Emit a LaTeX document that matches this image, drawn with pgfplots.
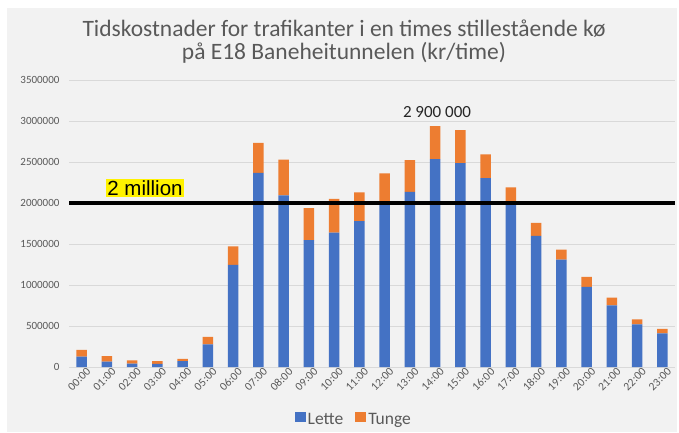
\documentclass[border=0pt]{standalone}
\usepackage{pgfplots}
\pgfplotsset{compat=1.18}
\usepackage{pgfplotstable}
\usepackage{fontspec}
\setmainfont{Carlito}
\newfontfamily\arial{Liberation Sans}
\definecolor{lette}{HTML}{4472C4}
\definecolor{tunge}{HTML}{ED7D31}
\definecolor{bg}{HTML}{F2F2F2}
\definecolor{txt}{HTML}{595959}
\definecolor{grd}{HTML}{D9D9D9}
\pgfplotstableread{
x lette tunge
0 126000 82000
1 65000 69000
2 41000 40000
3 37000 36000
4 73000 25000
5 277000 90000
6 1245000 225000
7 2368000 364000
8 2094000 434000
9 1546000 393000
10 1640000 409000
11 1779000 352000
12 1990000 370000
13 2135000 389000
14 2536000 401000
15 2487000 401000
16 2303000 290000
17 1985000 207000
18 1599000 160000
19 1309000 122000
20 978000 122000
21 753000 94000
22 519000 62000
23 409000 57000
}\data
\pgfplotstableread{
x y
-0.5 2000000
23.5 2000000
}\line
\begin{document}
\begin{tikzpicture}
\useasboundingbox (0,0) rectangle (679pt,432pt);
\fill[white] (0,0) rectangle (679pt,432pt);
\fill[bg] (7pt,0pt) rectangle (677pt,424pt);
\begin{axis}[
  at={(69pt,65pt)}, anchor=south west,
  scale only axis, width=606pt, height=287pt,
  ybar stacked, bar width=10.5pt,
  xmin=-0.5, xmax=23.5, ymin=0, ymax=3500000,
  axis line style={draw=none},
  major tick length=0pt,
  ymajorgrids, grid style={grd, line width=0.6pt},
  ytick={0,500000,...,3500000},
  scaled y ticks=false,
  /pgf/number format/assume math mode=true,
  yticklabel style={/pgf/number format/fixed, /pgf/number format/1000 sep={}, font=\fontsize{11}{12}\selectfont, text=txt, xshift=-6pt},
  xtick=data,
  xticklabels={00:00,01:00,02:00,03:00,04:00,05:00,06:00,07:00,08:00,09:00,10:00,11:00,12:00,13:00,14:00,15:00,16:00,17:00,18:00,19:00,20:00,21:00,22:00,23:00},
  xticklabel style={rotate=45, anchor=north east, font=\fontsize{11.5}{12}\selectfont, text=txt, inner sep=1pt, xshift=4pt, yshift=-2pt},
  legend style={at={(0.47,-0.185)}, anchor=center, draw=none, fill=none, legend columns=2, font=\fontsize{17.5}{19}\selectfont\color{txt}, /tikz/every even column/.append style={column sep=10pt}},
  legend image code/.code={\fill[#1] (-6pt,-2pt) rectangle (5pt,8pt);},
]
\addplot[fill=lette, draw=none] table[x=x, y=lette] {\data};
\addlegendentry{Lette}
\addplot[fill=tunge, draw=none] table[x=x, y=tunge] {\data};
\addlegendentry{Tunge}
\end{axis}
\begin{axis}[
  at={(69pt,65pt)}, anchor=south west,
  scale only axis, width=606pt, height=287pt,
  xmin=-0.5, xmax=23.5, ymin=0, ymax=3500000,
  hide axis, clip=false,
]
\addplot[black, line width=4pt] table[x=x, y=y] {\line};
\end{axis}
\node[fill=yellow, inner sep=1pt, font=\arial\fontsize{20.5}{21}\selectfont, anchor=center] at (145pt,244pt) {2 million};
\node[font=\fontsize{17}{18}\selectfont, text=black!85, anchor=center] at (437pt,320pt) {2 900 000};
\node[font=\fontsize{23.5}{26}\selectfont, text=txt, anchor=base] at (344pt,395pt) {Tidskostnader for trafikanter i en times stillestående kø};
\node[font=\fontsize{23.5}{26}\selectfont, text=txt, anchor=base] at (344pt,372pt) {på E18 Baneheitunnelen (kr/time)};
\end{tikzpicture}
\end{document}
